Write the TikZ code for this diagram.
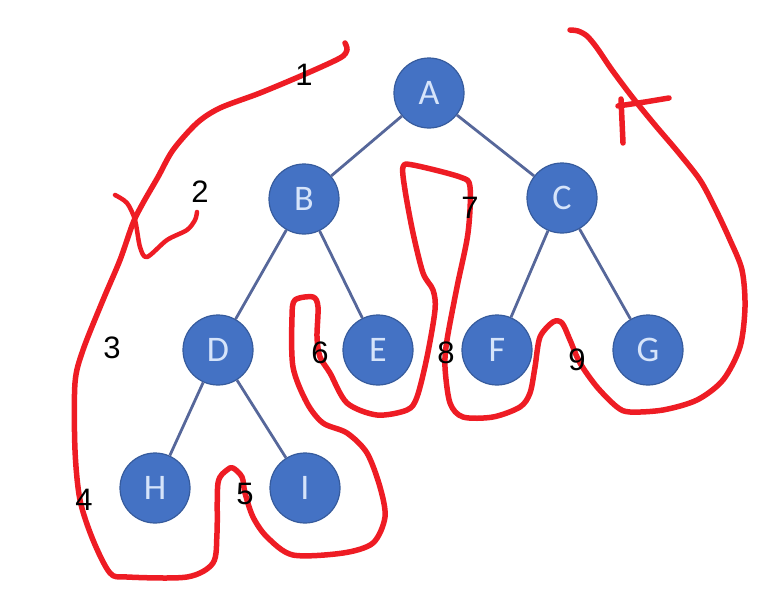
\documentclass[tikz,border=0pt]{standalone}
\usepackage{fontspec}
\setmainfont{Liberation Sans}
\newfontfamily\nodefont{Carlito}
\definecolor{nodeblue}{HTML}{4472C4}
\definecolor{nodetext}{HTML}{D6E4FA}
\definecolor{edgecol}{HTML}{56679A}
\definecolor{penred}{HTML}{EE1C24}
\begin{document}
\begin{tikzpicture}[x=1pt,y=-1pt,
  treenode/.style={circle,fill=nodeblue,draw=nodeblue!80!black,line width=1.2pt,minimum size=70pt,inner sep=0pt,
    text=nodetext,font=\nodefont\fontsize{36}{36}\selectfont},
  treeedge/.style={draw=edgecol,line width=2.8pt},
  numlabel/.style={font=\fontsize{31}{31}\selectfont,text=black,inner sep=0pt},
  pen/.style={draw=penred,line width=5.5pt,line cap=round,line join=round}]
\useasboundingbox (0,0) rectangle (776,597);

\node[treenode] (A) at (429,93) {A};
\node[treenode] (B) at (304,199) {B};
\node[treenode] (C) at (562,198) {C};
\node[treenode] (D) at (218,350) {D};
\node[treenode] (E) at (378,350) {E};
\node[treenode] (F) at (497,350) {F};
\node[treenode] (G) at (648,350) {G};
\node[treenode] (H) at (155,488) {H};
\node[treenode] (I) at (305,488) {I};

\draw[treeedge] (A) -- (B);
\draw[treeedge] (A) -- (C);
\draw[treeedge] (B) -- (D);
\draw[treeedge] (B) -- (E);
\draw[treeedge] (C) -- (F);
\draw[treeedge] (C) -- (G);
\draw[treeedge] (D) -- (H);
\draw[treeedge] (D) -- (I);

% main red tracing path
\draw[pen] plot[smooth,tension=0.5] coordinates {
 (345,43) (347,50) (340,58) (303,75) (260,93) (220,108) (197,123) (173,150)
 (158,177) (143,203) (133,223) (120,260) (103,300) (83,350) (75,383) (75,450)
 (80,500) (93,540) (110,573) (127,577) (187,577) (213,563) (217,533) (218,483)
 (227,470) (233,468) (242,477) (245,493) (253,517) (267,537) (293,555) (343,553)
 (373,543) (385,517) (380,487) (367,453) (347,433) (323,423) (307,403) (293,367)
 (292,317) (295,300) (313,297) (318,307) (317,337) (320,357) (330,373) (347,403)
 (377,415) (407,410) (417,397) (427,357) (435,310) (433,290) (423,273) (413,233)
 (405,190) (403,167) (413,165) (460,177) (470,187) (468,233) (457,287) (447,340)
 (445,367) (450,403) (463,417) (493,417) (520,407) (530,393) (535,367) (540,337)
 (553,322) (562,323) (570,340) (580,363) (597,387) (617,407) (630,412) (663,410)
 (697,400) (723,380) (740,347) (745,307) (742,270) (730,240) (715,208) (700,180)
 (678,152) (655,125) (633,98) (612,70) (597,48) (587,36) (578,31) (570,30)};

% hook near 2
\draw[pen,line width=4.5pt] plot[smooth,tension=0.5] coordinates {
 (115,195) (127,203) (135,220) (140,247) (147,257) (167,240) (187,230) (195,220) (197,212)};

% T mark near top right
\draw[pen,line width=5.5pt] (621,99) -- (623,143);
\draw[pen,line width=5.5pt] (618,106) -- (645,102) -- (669,98);

% numbers
\node[numlabel] (n1) at (304,75) {1};
\node[numlabel] (n2) at (200,192) {2};
\node[numlabel] (n3) at (112,348) {3};
\node[numlabel] (n4) at (84,500) {4};
\node[numlabel] (n5) at (245,494) {5};
\node[numlabel] (n6) at (320,353) {6};
\node[numlabel] (n7) at (470,208) {7};
\node[numlabel] (n8) at (446,353) {8};
\node[numlabel] (n9) at (577,360) {9};
\end{tikzpicture}
\end{document}
